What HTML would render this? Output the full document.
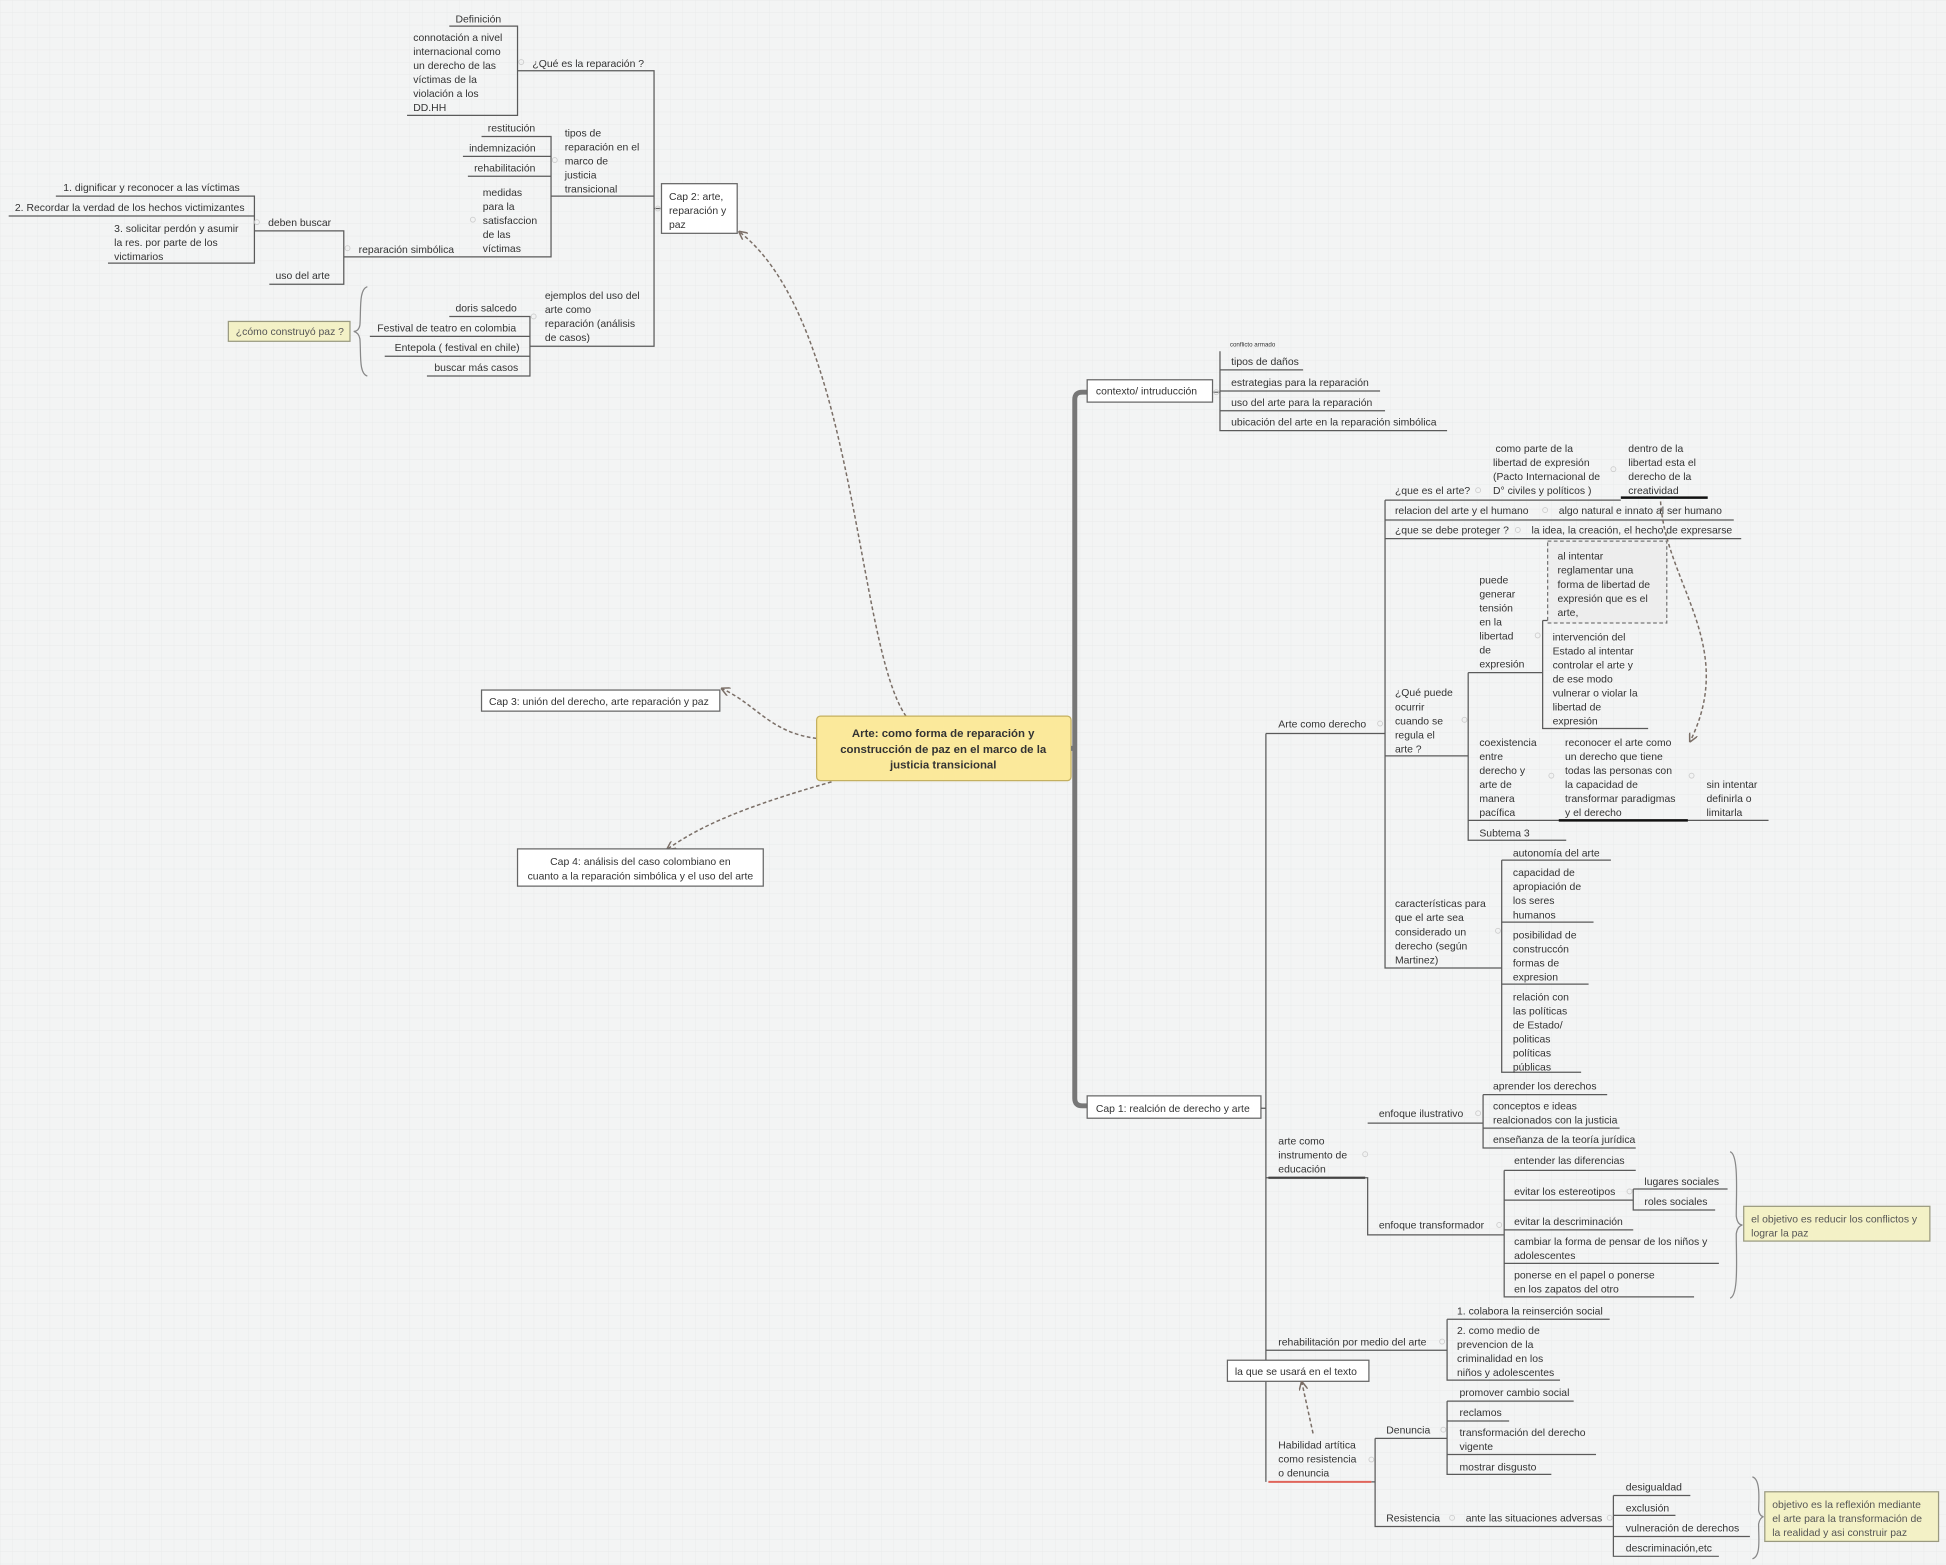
<!DOCTYPE html>
<html><head><meta charset="utf-8"><style>
html,body{margin:0;padding:0;background:#f3f4f4;}
svg{display:block}
text{font-family:"Liberation Sans",sans-serif;font-size:8.4px;fill:#333;}
.l{stroke:#5a5a5a;stroke-width:1;fill:none}
.box{fill:#fff;stroke:#666;stroke-width:1}
.y{fill:#f3f1c6;stroke:#9a9a80;stroke-width:1}
.d{stroke:#7a6e66;stroke-width:1.2;fill:none;stroke-dasharray:3,2}
.c{fill:none;stroke:#ccc;stroke-width:.7}
</style></head><body>
<svg width="1946" height="1565" viewBox="0 0 1568 1261" xmlns="http://www.w3.org/2000/svg">
<defs>
<pattern id="g" width="10" height="10" patternUnits="userSpaceOnUse"><path d="M10 0H0V10" fill="none" stroke="#e6e8e8" stroke-width=".5"/></pattern>
<marker id="a" markerWidth="6" markerHeight="6" refX="5" refY="3" orient="auto"><path d="M0,0 L6,3 L0,6" fill="none" stroke="#7a6e66" stroke-width="1"/></marker>
</defs>
<rect width="1568" height="1261" fill="url(#g)"/>

<g class="l">
<path d="M362 21H417V93H328"/>
<path d="M417 57H527V279H427"/>
<path d="M527 158H444"/>
<path d="M527 168H533"/>
<path d="M388 110H444V207H277"/>
<path d="M373 126H444M377 142H444"/>
<path d="M205 186H277V229H217"/>
<path d="M45 158H205V212H87M7 174H205"/>
<path d="M362 255H427V303H344M298 271H427M310 287H427"/>
</g>
<g class="c"><circle cx="420" cy="50" r="2"/><circle cx="447" cy="129" r="2"/><circle cx="381" cy="177" r="2"/><circle cx="280" cy="200" r="2"/><circle cx="207" cy="179" r="2"/><circle cx="530" cy="168" r="2"/><circle cx="430" cy="255" r="2"/></g>
<text x="367" y="18">Definición</text>
<text x="333" y="33"><tspan x="333">connotación a nivel</tspan><tspan x="333" dy="11.3">internacional como</tspan><tspan x="333" dy="11.3">un  derecho de las</tspan><tspan x="333" dy="11.3">víctimas de la</tspan><tspan x="333" dy="11.3">violación a los</tspan><tspan x="333" dy="11.3">DD.HH</tspan></text>
<text x="429" y="54">¿Qué es la reparación ?</text>
<text x="393" y="106">restitución</text>
<text x="378" y="122">indemnización</text>
<text x="382" y="138">rehabilitación</text>
<text y="110"><tspan x="455">tipos de</tspan><tspan x="455" dy="11.3">reparación en el</tspan><tspan x="455" dy="11.3">marco de</tspan><tspan x="455" dy="11.3">justicia</tspan><tspan x="455" dy="11.3">transicional</tspan></text>
<text y="158"><tspan x="389">medidas</tspan><tspan x="389" dy="11.3">para la</tspan><tspan x="389" dy="11.3">satisfaccion</tspan><tspan x="389" dy="11.3">de las</tspan><tspan x="389" dy="11.3">víctimas</tspan></text>
<text x="289" y="204">reparación simbólica</text>
<text x="216" y="182">deben buscar</text>
<text x="222" y="225">uso del arte</text>
<text x="51" y="154">1. dignificar y reconocer a las víctimas</text>
<text x="12" y="170">2. Recordar la verdad de los hechos victimizantes</text>
<text y="187"><tspan x="92">3. solicitar perdón y asumir</tspan><tspan x="92" dy="11.3">la res. por parte de los</tspan><tspan x="92" dy="11.3">victimarios</tspan></text>
<rect class="box" x="533" y="148" width="61" height="40"/>
<text y="161"><tspan x="539">Cap 2: arte,</tspan><tspan x="539" dy="11.3">reparación y</tspan><tspan x="539" dy="11.3">paz</tspan></text>
<text y="241"><tspan x="439">ejemplos del uso del</tspan><tspan x="439" dy="11.3">arte como</tspan><tspan x="439" dy="11.3">reparación (análisis</tspan><tspan x="439" dy="11.3">de casos)</tspan></text>
<text x="367" y="251">doris salcedo</text>
<text x="304" y="267">Festival de teatro en colombia</text>
<text x="318" y="283">Entepola ( festival en chile)</text>
<text x="350" y="299">buscar más casos</text>
<path d="M296 231 C289 233 291 250 290 262 Q289 267 285 267 Q289 268 290 273 C291 285 289 301 296 303" fill="none" stroke="#888" stroke-width="1"/>
<rect class="y" x="184" y="259" width="98" height="16"/>
<text x="190" y="270" style="fill:#555">¿cómo construyó paz ?</text>

<path class="d" d="M730 577 C690 520 690 260 596 187" marker-end="url(#a)"/>
<path class="d" d="M658 595 C620 590 610 568 582 555" marker-end="url(#a)"/>
<path class="d" d="M670 630 C600 650 565 665 538 684" marker-end="url(#a)"/>
<rect x="658" y="577" width="205" height="52" rx="3" fill="#fbe99b" stroke="#c4b060"/>
<text text-anchor="middle" style="font-weight:bold;font-size:9.2px" y="594"><tspan x="760">Arte: como forma de reparación y</tspan><tspan x="760" dy="12.7">construcción de paz en el marco de la</tspan><tspan x="760" dy="12.7">justicia transicional</tspan></text>
<rect class="box" x="388" y="556" width="192" height="17"/>
<text x="394" y="568">Cap 3: unión del derecho, arte reparación y paz</text>
<rect class="box" x="417" y="684" width="198" height="30"/>
<text text-anchor="middle" y="697"><tspan x="516">Cap 4: análisis del caso colombiano en</tspan><tspan x="516" dy="11.5">cuanto a la reparación simbólica y el uso del arte</tspan></text>

<path d="M863 603H866M876 316H872Q866 316 866 322V885Q866 891 872 891H876" stroke="#777" stroke-width="4" fill="none"/>
<rect class="box" x="876" y="306" width="101" height="18"/>
<text x="883" y="318">contexto/ intruducción</text>
<rect class="box" x="876" y="883" width="140" height="18"/>
<text x="883" y="896">Cap 1: realción de derecho y arte</text>

<g class="l">
<path d="M977 316H983M983 283V347H1166M983 298H1050M983 315H1112M983 331H1116"/>
<path d="M1016 893H1020M1020 591V1194M1020 591H1116"/>
<path d="M1116 403V780H1210M1116 403H1306M1116 419H1397M1116 434H1403"/>
<path d="M1116 609H1183M1183 542V677H1262M1183 542H1243M1243 500V587H1328M1243 500H1340M1183 661H1425"/>
<path d="M1210 693V864H1274M1210 693H1298M1210 743H1284M1210 793H1280"/>
<path d="M1020 949H1102V995H1212M1102 905H1195M1195 882V925H1318M1195 882H1295M1195 909H1305"/>
<path d="M1212 943V1045H1365M1212 943H1318M1212 967H1316M1316 958V975H1382M1316 958H1392M1212 991H1316M1212 1018H1385"/>
<path d="M1020 1088H1166M1166 1063V1112H1257M1166 1063H1297"/>
<path d="M1108 1159V1230H1300M1108 1194H1105M1108 1159H1166M1166 1129V1188H1250M1166 1129H1268M1166 1145H1216M1166 1172H1286"/>
<path d="M1300 1205V1254H1385M1300 1205H1362M1300 1221H1350M1300 1238H1410"/>
</g>
<path d="M1306 401H1376M1256 661H1360" stroke="#111" stroke-width="2"/>
<path d="M1022 949H1100" stroke="#444" stroke-width="1.8"/>
<path d="M1022 1194H1105" stroke="#e0645a" stroke-width="1.6"/>
<g class="c"><circle cx="980" cy="316" r="2"/><circle cx="1191" cy="395" r="2"/><circle cx="1300" cy="378" r="2"/><circle cx="1245" cy="411" r="2"/><circle cx="1223" cy="427" r="2"/><circle cx="1112" cy="583" r="2"/><circle cx="1180" cy="580" r="2"/><circle cx="1239" cy="512" r="2"/><circle cx="1250" cy="625" r="2"/><circle cx="1363" cy="625" r="2"/><circle cx="1207" cy="750" r="2"/><circle cx="1100" cy="930" r="2"/><circle cx="1191" cy="897" r="2"/><circle cx="1208" cy="987" r="2"/><circle cx="1313" cy="960" r="2"/><circle cx="1162" cy="1081" r="2"/><circle cx="1105" cy="1176" r="2"/><circle cx="1163" cy="1152" r="2"/><circle cx="1170" cy="1223" r="2"/><circle cx="1297" cy="1223" r="2"/></g>

<text x="991" y="279" style="font-size:5px">conflicto armado</text>
<text x="992" y="294">tipos de daños</text>
<text x="992" y="311">estrategias para la reparación</text>
<text x="992" y="327">uso del arte para la reparación</text>
<text x="992" y="343">ubicación del arte en la reparación simbólica</text>

<text x="1030" y="586">Arte como derecho</text>
<text x="1124" y="398">¿que es el arte?</text>
<text y="364"><tspan x="1205">como parte de la</tspan><tspan x="1203" dy="11.3">libertad de expresión</tspan><tspan x="1203" dy="11.3">(Pacto Internacional de</tspan><tspan x="1203" dy="11.3">D° civiles y políticos )</tspan></text>
<text y="364"><tspan x="1312">dentro de la</tspan><tspan x="1312" dy="11.3">libertad esta el</tspan><tspan x="1312" dy="11.3">derecho de la</tspan><tspan x="1312" dy="11.3">creatividad</tspan></text>
<text x="1124" y="414">relacion del arte y el humano</text>
<text x="1256" y="414">algo natural e innato al ser humano</text>
<text x="1124" y="430">¿que se debe proteger ?</text>
<text x="1234" y="430">la idea, la creación, el hecho de expresarse</text>
<text y="561"><tspan x="1124">¿Qué puede</tspan><tspan x="1124" dy="11.3">ocurrir</tspan><tspan x="1124" dy="11.3">cuando se</tspan><tspan x="1124" dy="11.3">regula el</tspan><tspan x="1124" dy="11.3">arte ?</tspan></text>
<text y="470"><tspan x="1192">puede</tspan><tspan x="1192" dy="11.3">generar</tspan><tspan x="1192" dy="11.3">tensión</tspan><tspan x="1192" dy="11.3">en la</tspan><tspan x="1192" dy="11.3">libertad</tspan><tspan x="1192" dy="11.3">de</tspan><tspan x="1192" dy="11.3">expresión</tspan></text>
<rect x="1247" y="436" width="96" height="66" fill="#ededed" stroke="#777" stroke-dasharray="3,2"/>
<text y="451"><tspan x="1255">al intentar</tspan><tspan x="1255" dy="11.3">reglamentar una</tspan><tspan x="1255" dy="11.3">forma de libertad de</tspan><tspan x="1255" dy="11.3">expresión que es el</tspan><tspan x="1255" dy="11.3">arte,</tspan></text>
<text y="516"><tspan x="1251">intervención del</tspan><tspan x="1251" dy="11.3">Estado al intentar</tspan><tspan x="1251" dy="11.3">controlar el arte y</tspan><tspan x="1251" dy="11.3">de ese modo</tspan><tspan x="1251" dy="11.3">vulnerar o violar la</tspan><tspan x="1251" dy="11.3">libertad de</tspan><tspan x="1251" dy="11.3">expresión</tspan></text>
<text y="601"><tspan x="1192">coexistencia</tspan><tspan x="1192" dy="11.3">entre</tspan><tspan x="1192" dy="11.3">derecho y</tspan><tspan x="1192" dy="11.3">arte de</tspan><tspan x="1192" dy="11.3">manera</tspan><tspan x="1192" dy="11.3">pacífica</tspan></text>
<text y="601"><tspan x="1261">reconocer el arte como</tspan><tspan x="1261" dy="11.3">un derecho que tiene</tspan><tspan x="1261" dy="11.3">todas las personas con</tspan><tspan x="1261" dy="11.3">la capacidad de</tspan><tspan x="1261" dy="11.3">transformar paradigmas</tspan><tspan x="1261" dy="11.3">y el derecho</tspan></text>
<text y="635"><tspan x="1375">sin intentar</tspan><tspan x="1375" dy="11.3">definirla o</tspan><tspan x="1375" dy="11.3">limitarla</tspan></text>
<path class="d" d="M1338 404 C1342 470 1400 520 1362 597" marker-end="url(#a)"/>
<text x="1192" y="674">Subtema 3</text>
<text y="731"><tspan x="1124">características para</tspan><tspan x="1124" dy="11.3">que el arte sea</tspan><tspan x="1124" dy="11.3">considerado un</tspan><tspan x="1124" dy="11.3">derecho (según</tspan><tspan x="1124" dy="11.3">Martinez)</tspan></text>
<text x="1219" y="690">autonomía del arte</text>
<text y="706"><tspan x="1219">capacidad de</tspan><tspan x="1219" dy="11.3">apropiación de</tspan><tspan x="1219" dy="11.3">los seres</tspan><tspan x="1219" dy="11.3">humanos</tspan></text>
<text y="756"><tspan x="1219">posibilidad de</tspan><tspan x="1219" dy="11.3">construccón</tspan><tspan x="1219" dy="11.3">formas de</tspan><tspan x="1219" dy="11.3">expresion</tspan></text>
<text y="806"><tspan x="1219">relación con</tspan><tspan x="1219" dy="11.3">las políticas</tspan><tspan x="1219" dy="11.3">de Estado/</tspan><tspan x="1219" dy="11.3">politicas</tspan><tspan x="1219" dy="11.3">políticas</tspan><tspan x="1219" dy="11.3">públicas</tspan></text>

<text y="922"><tspan x="1030">arte como</tspan><tspan x="1030" dy="11.3">instrumento de</tspan><tspan x="1030" dy="11.3">educación</tspan></text>
<text x="1111" y="900">enfoque ilustrativo</text>
<text x="1203" y="878">aprender los derechos</text>
<text y="894"><tspan x="1203">conceptos e ideas</tspan><tspan x="1203" dy="11.3">realcionados con la justicia</tspan></text>
<text x="1203" y="921">enseñanza de la teoría jurídica</text>
<text x="1111" y="990">enfoque transformador</text>
<text x="1220" y="938">entender las diferencias</text>
<text x="1220" y="963">evitar los estereotipos</text>
<text x="1325" y="955">lugares sociales</text>
<text x="1325" y="971">roles sociales</text>
<text x="1220" y="987">evitar la descriminación</text>
<text y="1003"><tspan x="1220">cambiar la forma de pensar de los niños y</tspan><tspan x="1220" dy="11.3">adolescentes</tspan></text>
<text y="1030"><tspan x="1220">ponerse en el papel o ponerse</tspan><tspan x="1220" dy="11.3">en los zapatos del otro</tspan></text>
<path d="M1394 928 C1401 930 1399 960 1399 980 Q1400 987 1404 987 Q1400 988 1399 994 C1399 1015 1401 1044 1394 1046" fill="none" stroke="#888"/>
<rect class="y" x="1405" y="972" width="150" height="28"/>
<text y="985" style="fill:#555"><tspan x="1411">el objetivo es reducir los conflictos y</tspan><tspan x="1411" dy="11.3">lograr la paz</tspan></text>

<text x="1030" y="1084">rehabilitación por medio del arte</text>
<text x="1174" y="1059">1. colabora la reinserción social</text>
<text y="1075"><tspan x="1174">2. como medio de</tspan><tspan x="1174" dy="11.3">prevencion de la</tspan><tspan x="1174" dy="11.3">criminalidad en los</tspan><tspan x="1174" dy="11.3">niños y adolescentes</tspan></text>
<rect class="box" x="989" y="1096" width="114" height="17"/>
<text x="995" y="1108">la que se usará en el texto</text>
<path class="d" d="M1058 1155 L1049 1114" marker-end="url(#a)"/>
<text y="1167"><tspan x="1030">Habilidad artítica</tspan><tspan x="1030" dy="11.3">como resistencia</tspan><tspan x="1030" dy="11.3">o denuncia</tspan></text>
<text x="1117" y="1155">Denuncia</text>
<text x="1176" y="1125">promover cambio social</text>
<text x="1176" y="1141">reclamos</text>
<text y="1157"><tspan x="1176">transformación del derecho</tspan><tspan x="1176" dy="11.3">vigente</tspan></text>
<text x="1176" y="1185">mostrar disgusto</text>
<text x="1117" y="1226">Resistencia</text>
<text x="1181" y="1226">ante las situaciones adversas</text>
<text x="1310" y="1201">desigualdad</text>
<text x="1310" y="1218">exclusión</text>
<text x="1310" y="1234">vulneración de derechos</text>
<text x="1310" y="1250">descriminación,etc</text>
<path d="M1412 1190 C1419 1192 1417 1210 1417 1217 Q1418 1222 1421 1222 Q1418 1223 1417 1228 C1417 1240 1419 1254 1412 1256" fill="none" stroke="#888"/>
<rect class="y" x="1422" y="1202" width="140" height="40"/>
<text y="1215" style="fill:#555"><tspan x="1428">objetivo es  la reflexión mediante</tspan><tspan x="1428" dy="11.3">el arte para la transformación de</tspan><tspan x="1428" dy="11.3">la realidad y asi construir paz</tspan></text>
</svg>
</body></html>
